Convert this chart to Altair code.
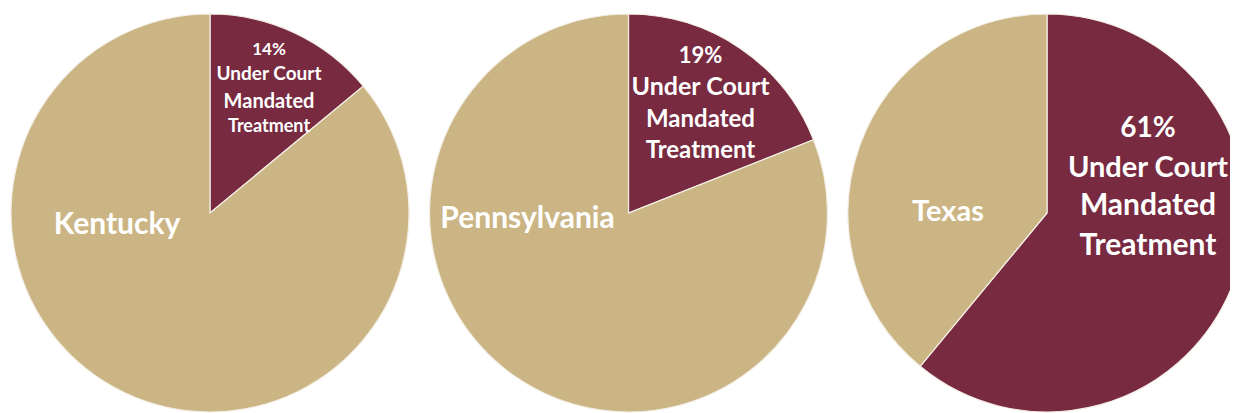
import altair as alt
import pandas as pd

# ---- data ----
states = ["Kentucky", "Pennsylvania", "Texas"]
court_pct = [14, 19, 61]
other_pct = [86, 81, 39]
pct_labels = ["14%", "19%", "61%"]
court_lines = ["Under Court", "Mandated", "Treatment"]
categories = ["Under Court Mandated Treatment", "Other"]

# ---- styles ----
colors = ["#772A40", "#CBB584"]
FONT = "Lato"
# per state: dx of court label block, baselines (pct + 3 lines), font sizes
court_style = {
    "Kentucky": (59, [-158, -133, -105, -81], [17, 19, 20, 18]),
    "Pennsylvania": (72, [-150, -118, -86, -55], [22, 25, 24, 24]),
    "Texas": (101, [-76, -36, 2, 42], [28, 29, 30, 30]),
}
name_style = {
    "Kentucky": (-93, 21, 30),
    "Pennsylvania": (-101, 15, 30),
    "Texas": (-99, 8, 29),
}

rows = []
for s, c, o in zip(states, court_pct, other_pct):
    rows.append({"state": s, "category": categories[0], "pct": c, "order": 0})
    rows.append({"state": s, "category": categories[1], "pct": o, "order": 1})
arcs_df = pd.DataFrame(rows)

x_scale = alt.Scale(type="point", domain=states, range=[202, 1039], padding=0)
x_enc = alt.X("state:N", scale=x_scale, axis=None)

pies = (
    alt.Chart(arcs_df)
    .transform_stack(stack="pct", groupby=["state"], as_=["start", "end"],
                     sort=[alt.SortField("order")])
    .mark_arc(radius=199, stroke="#F4EFE6", strokeWidth=1.2)
    .encode(
        x=x_enc,
        theta=alt.Theta("start:Q", scale=alt.Scale(domain=[0, 100], range=[0, 6.283185307])),
        theta2="end:Q",
        color=alt.Color("category:N", scale=alt.Scale(domain=categories, range=colors), legend=None),
    )
)

layers = [pies]
for s, p in zip(states, pct_labels):
    dx, dys, sizes = court_style[s]
    for t, dy, fs in zip([p] + court_lines, dys, sizes):
        layers.append(
            alt.Chart(pd.DataFrame({"state": [s], "text": [t]}))
            .mark_text(font=FONT, fontWeight="bold", color="#FFFFFF", fontSize=fs,
                       align="center", baseline="alphabetic", dx=dx, dy=dy)
            .encode(x=x_enc, text="text:N")
        )
    ndx, ndy, nfs = name_style[s]
    layers.append(
        alt.Chart(pd.DataFrame({"state": [s], "text": [s]}))
        .mark_text(font=FONT, fontWeight="bold", color="#FFFFFF", fontSize=nfs,
                   align="center", baseline="alphabetic", dx=ndx, dy=ndy)
        .encode(x=x_enc, text="text:N")
    )

chart = (
    alt.layer(*layers)
    .properties(width=1222, height=400, autosize="none",
                padding={"top": 5, "left": 0, "right": 0, "bottom": 0},
                background="white")
    .configure_view(stroke=None)
)

chart.save("out.html", embed_options={"renderer": "svg", "actions": False})
